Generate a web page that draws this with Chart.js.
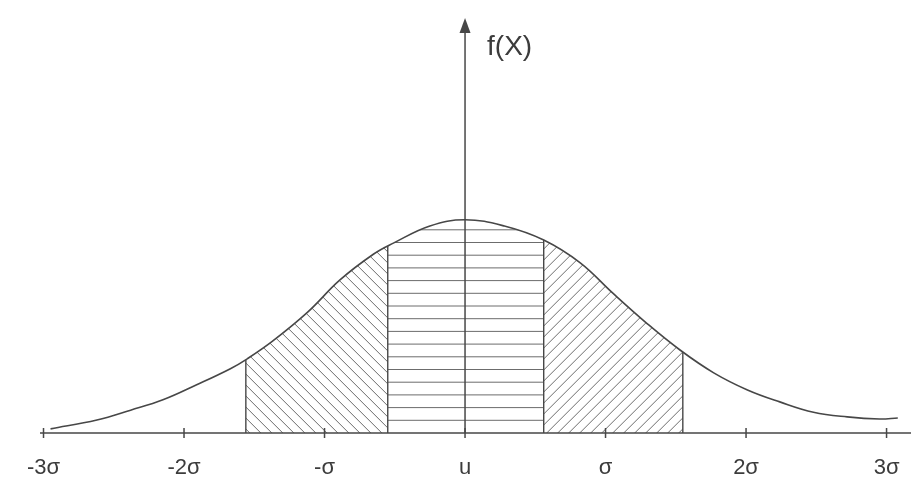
<!DOCTYPE html>
<html>
<head>
<meta charset="utf-8">
<script src="https://cdn.jsdelivr.net/npm/chart.js@4"></script>
<style>
  html, body { margin: 0; padding: 0; background: #ffffff; }
  #wrap { width: 917px; height: 490px; }
</style>
</head>
<body>
<div id="wrap"><canvas id="c" width="917" height="490"></canvas></div>
<script>
// Bell curve f(x); x is measured in standard deviations from the mean
const curveX = [-2.95, -2.62, -2.38, -2.15, -1.91, -1.67, -1.55, -1.37, -1.12, -0.89,
                -0.65, -0.51, -0.25, 0.00, 0.28, 0.56, 0.82, 1.05, 1.30, 1.53,
                1.77, 2.01, 2.24, 2.48, 2.72, 2.95, 3.08];
const curveY = [0.008, 0.025, 0.044, 0.064, 0.093, 0.124, 0.143, 0.177, 0.233, 0.295,
                0.345, 0.366, 0.399, 0.411, 0.399, 0.372, 0.328, 0.270, 0.210, 0.160,
                0.116, 0.083, 0.060, 0.040, 0.031, 0.027, 0.029];

// Axis ticks and their labels
const tickValues = [-3, -2, -1, 0, 1, 2, 3];
const tickLabels = ['-3σ', '-2σ', '-σ', 'u', 'σ', '2σ', '3σ'];
const axisTitle = 'f(X)';

// Shaded bands under the curve: edges and the hatching used between them
const bandEdges = [-1.56, -0.55, 0.56, 1.55];
const bandHatch = ['back', 'horizontal', 'forward'];

const INK = '#474747';
const HATCH = '#6c6c6c';

const sketchPlugin = {
  id: 'sketch',
  beforeDatasetsDraw(chart) {
    const { ctx, chartArea: a, scales: { x, y } } = chart;
    const line = chart.getDatasetMeta(0).dataset;
    line.updateControlPoints(a, 'x');
    const pts = line.points;
    const base = y.getPixelForValue(0);

    ctx.save();
    // region under the curve
    ctx.beginPath();
    line.path(ctx);
    ctx.lineTo(pts[pts.length - 1].x, base);
    ctx.lineTo(pts[0].x, base);
    ctx.closePath();
    ctx.clip();

    const H = base - a.top;
    for (let i = 0; i < bandHatch.length; i++) {
      const x1 = x.getPixelForValue(bandEdges[i]);
      const x2 = x.getPixelForValue(bandEdges[i + 1]);
      ctx.save();
      ctx.beginPath();
      ctx.rect(x1, a.top, x2 - x1, H);
      ctx.clip();
      ctx.strokeStyle = HATCH;
      ctx.lineWidth = 1;
      ctx.beginPath();
      if (bandHatch[i] === 'horizontal') {
        for (let yy = base - 12.7; yy > a.top; yy -= 12.7) {
          ctx.moveTo(x1, yy);
          ctx.lineTo(x2, yy);
        }
      } else if (bandHatch[i] === 'back') {
        for (let bx = x1 + 4; bx < x2 + H; bx += 11) {
          ctx.moveTo(bx, base);
          ctx.lineTo(bx - H, base - H);
        }
      } else {
        for (let bx = x1 - H; bx < x2; bx += 11) {
          ctx.moveTo(bx, base);
          ctx.lineTo(bx + H, base - H);
        }
      }
      ctx.stroke();
      ctx.restore();
    }

    // band edges, from the axis up to the curve
    ctx.strokeStyle = INK;
    ctx.lineWidth = 1.4;
    ctx.beginPath();
    for (const e of bandEdges) {
      const px = x.getPixelForValue(e);
      ctx.moveTo(px, base);
      ctx.lineTo(px, a.top);
    }
    ctx.stroke();
    ctx.restore();
  },
  afterDatasetsDraw(chart) {
    const { ctx, chartArea: a, scales: { x, y } } = chart;
    const base = y.getPixelForValue(0);
    const x0 = x.getPixelForValue(0);

    ctx.save();
    ctx.strokeStyle = INK;
    ctx.fillStyle = INK;
    ctx.lineWidth = 1.5;

    // horizontal axis with tick marks
    ctx.beginPath();
    ctx.moveTo(a.left, base);
    ctx.lineTo(a.right, base);
    for (const v of tickValues) {
      const px = x.getPixelForValue(v);
      ctx.moveTo(px, base - 5);
      ctx.lineTo(px, base + 5);
    }
    ctx.stroke();

    // vertical axis with arrow head
    ctx.beginPath();
    ctx.moveTo(x0, base);
    ctx.lineTo(x0, a.top + 12);
    ctx.stroke();
    ctx.beginPath();
    ctx.moveTo(x0, a.top);
    ctx.lineTo(x0 - 5.5, a.top + 15);
    ctx.lineTo(x0 + 5.5, a.top + 15);
    ctx.closePath();
    ctx.fill();

    // tick labels
    ctx.fillStyle = '#3c3c3c';
    ctx.font = '22px "Liberation Sans"';
    ctx.textAlign = 'center';
    ctx.textBaseline = 'middle';
    tickValues.forEach((v, i) => {
      ctx.fillText(tickLabels[i], x.getPixelForValue(v), 468);
    });

    // axis title
    ctx.font = '28px "Liberation Sans"';
    ctx.textAlign = 'left';
    ctx.fillText(axisTitle, x0 + 22, 47);
    ctx.restore();
  }
};

new Chart(document.getElementById('c'), {
  type: 'line',
  data: {
    datasets: [{
      data: curveX.map((v, i) => ({ x: v, y: curveY[i] })),
      borderColor: INK,
      borderWidth: 1.6,
      pointRadius: 0,
      tension: 0.4,
      fill: false
    }]
  },
  options: {
    responsive: false,
    animation: false,
    events: [],
    layout: { padding: { left: 40, right: 6, top: 18, bottom: 57 } },
    plugins: { legend: { display: false }, tooltip: { enabled: false } },
    scales: {
      x: { type: 'linear', min: -3.025, max: 3.174, display: false },
      y: { min: 0, max: 0.8, display: false }
    }
  },
  plugins: [sketchPlugin]
});
</script>
</body>
</html>
